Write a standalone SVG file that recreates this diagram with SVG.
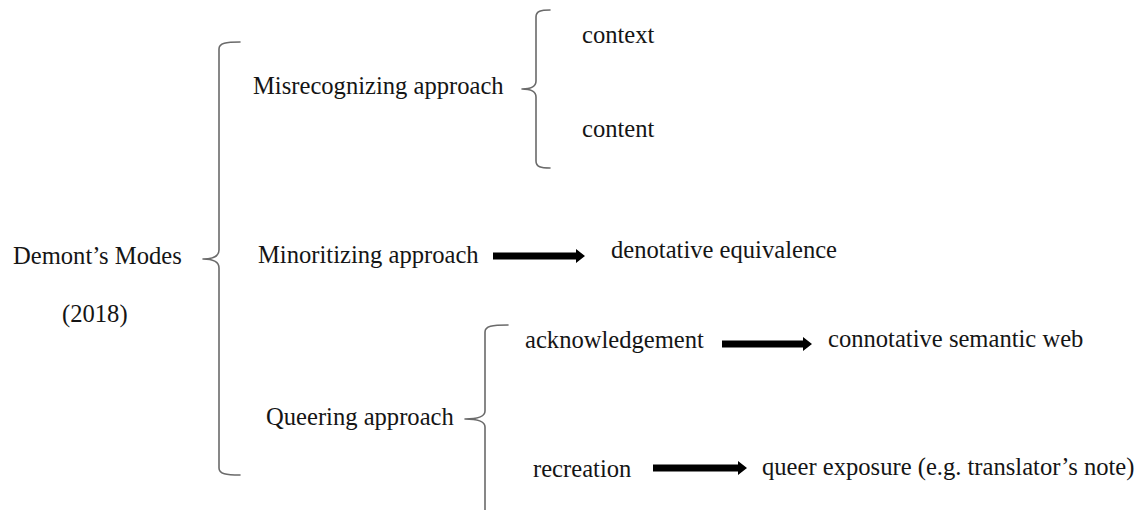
<svg xmlns="http://www.w3.org/2000/svg" width="1146" height="510" viewBox="0 0 1146 510">
<style>
.t{font-family:"Liberation Serif","Times New Roman",serif;font-size:24.6px;fill:#151515}
.br{fill:none;stroke:#6a6a6a;stroke-width:1.6;stroke-linecap:round;stroke-linejoin:round}
.ar{fill:#000}
</style>
<rect width="1146" height="510" fill="#fff"/>
<g id="connectors">
  <path class="br" d="M240,42 C226,42 219,43 219,49 L219,250 C219,256 214,259 203,259 C214,259 219,262 219,268 L219,468 C219,474 226,475 240,475"/>
  <path class="br" d="M550,10 C541,10 536,11 536,17 L536,81 C536,86 532,89 522,89 C532,89 536,92 536,97 L536,161 C536,167 541,168 550,168"/>
  <path class="br" d="M508,325 C492,325 485,326 485,332 L485,411 C485,416 479,419 465,419 C479,419 485,422 485,427 L485,512"/>
  <polygon class="ar" points="493,252.5 576,252.5 576,249 585,256 576,263 576,259.5 493,259.5"/>
  <polygon class="ar" points="722,340.5 803,340.5 803,337 812,344 803,351 803,347.5 722,347.5"/>
  <polygon class="ar" points="653,464.5 738,464.5 738,461 747,468 738,475 738,471.5 653,471.5"/>
</g>
<g id="demont"><text class="t" x="13" y="264">Demont’s Modes</text><text class="t" x="62" y="322">(2018)</text></g>
<g id="misrecognizing"><text class="t" x="253" y="94">Misrecognizing approach</text></g>
<g id="context"><text class="t" x="582" y="43">context</text></g>
<g id="content"><text class="t" x="582" y="137">content</text></g>
<g id="minoritizing"><text class="t" x="258" y="263">Minoritizing approach</text></g>
<g id="denotative"><text class="t" x="611" y="258">denotative equivalence</text></g>
<g id="queering"><text class="t" x="266" y="425">Queering approach</text></g>
<g id="acknowledgement"><text class="t" x="525" y="348">acknowledgement</text></g>
<g id="connotative"><text class="t" x="828" y="347">connotative semantic web</text></g>
<g id="recreation"><text class="t" x="533" y="477">recreation</text></g>
<g id="queer-exposure"><text class="t" x="762" y="475">queer exposure (e.g. translator’s note)</text></g>
</svg>
